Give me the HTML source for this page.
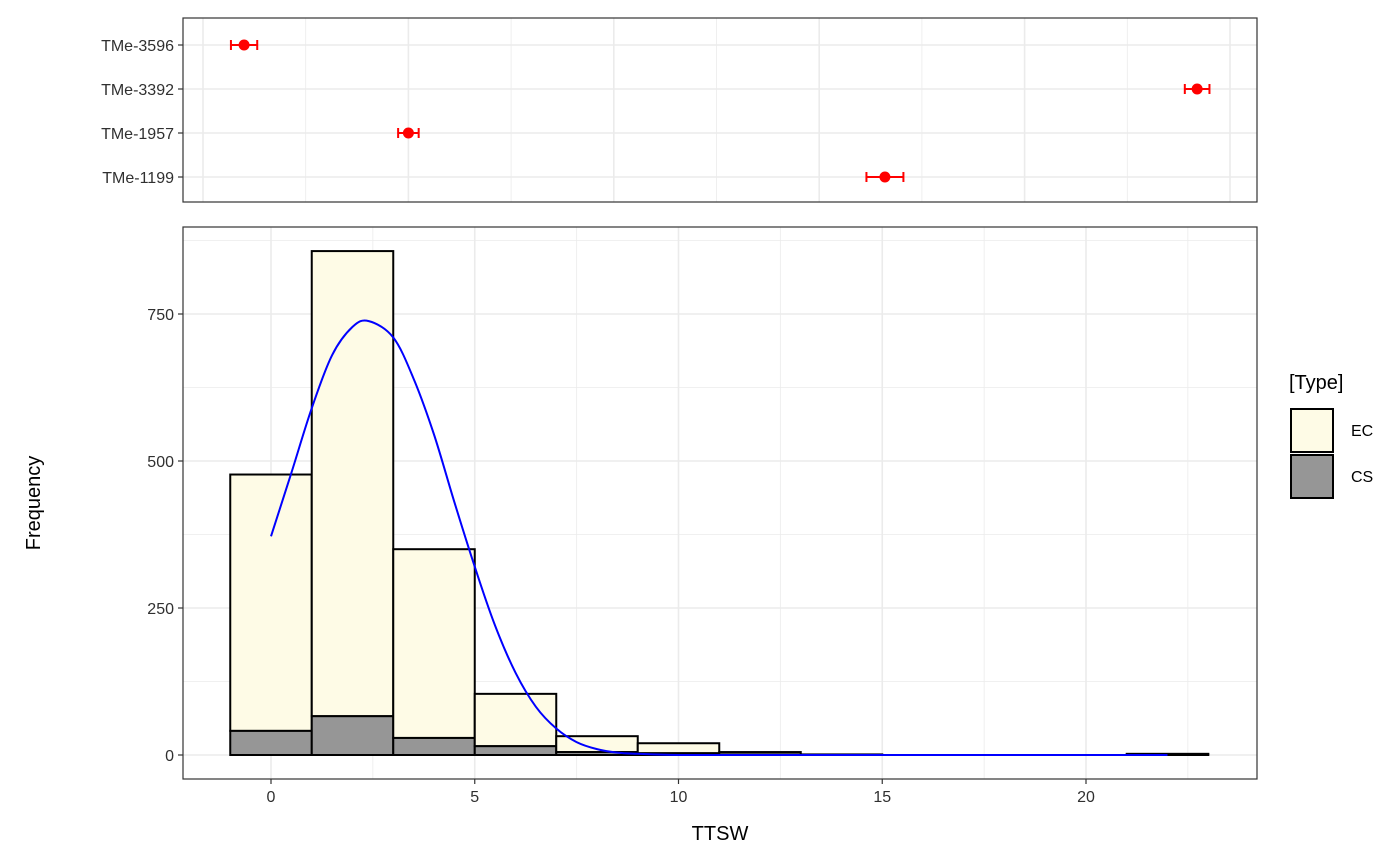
<!DOCTYPE html>
<html><head><meta charset="utf-8"><style>
body{margin:0;background:#fff}
svg{display:block;font-family:"Liberation Sans",Arial,sans-serif}
</style></head><body>
<svg id="chart" width="1400" height="866" viewBox="0 0 1400 866">
<g id="topPanelG"></g>
<g id="mainG"></g>
<g id="legendG"></g>
</svg>
<script>
// ---- data ----
const genotypes = ["TMe-3596","TMe-3392","TMe-1957","TMe-1199"];
const genoMeans = [1.0, 24.2, 5.0, 16.6];
const genoErr = [0.32, 0.3, 0.25, 0.45];
const binCenters = [0,2,4,6,8,10,12,14,16,18,20,22];
const csCounts = [41,66,29,15,5,3,1,1,0,0,0,1];
const ecCounts = [436,791,321,89,27,17,4,0,0,0,0,1];
const curveX = [0,0.5,1,1.5,2,2.4,3,3.5,4,4.5,5,5.5,6,6.5,7,7.5,8,8.5,9,10,12,14,16,18,20,22];
const curveY = [372,480,590,680,728,738,710,640,545,430,320,220,140,82,45,22,10,4,2,0,0,0,0,0,0,0];
const xTicks = [0,5,10,15,20];
const yTicks = [0,250,500,750];
// ---- helpers ----
const NS="http://www.w3.org/2000/svg";
const TICK_COL='#303030';
function mk(parent,tag,attrs,text){const e=document.createElementNS(NS,tag);for(const k in attrs)e.setAttribute(k,attrs[k]);if(text!==undefined)e.textContent=text;parent.appendChild(e);return e;}
// ---- main panel ----
const M={l:183,r:1257,t:227,b:779};
const xs=v=>271+v*40.75;
const ys=v=>755-v*0.588;
const mainG=document.getElementById('mainG');
mk(mainG,'rect',{x:M.l,y:M.t,width:M.r-M.l,height:M.b-M.t,fill:'#fff'});
[-2.5,2.5,7.5,12.5,17.5,22.5].forEach(v=>{const x=xs(v);if(x>M.l&&x<M.r)mk(mainG,'line',{x1:x,x2:x,y1:M.t,y2:M.b,stroke:'#ebebeb','stroke-width':0.8});});
[125,375,625,875].forEach(v=>{mk(mainG,'line',{x1:M.l,x2:M.r,y1:ys(v),y2:ys(v),stroke:'#ebebeb','stroke-width':0.8});});
xTicks.forEach(v=>{mk(mainG,'line',{x1:xs(v),x2:xs(v),y1:M.t,y2:M.b,stroke:'#ebebeb','stroke-width':1.6});
 mk(mainG,'line',{x1:xs(v),x2:xs(v),y1:M.b,y2:M.b+5,stroke:'#333','stroke-width':1.2});
 const t=mk(mainG,'text',{x:xs(v),y:M.b+23,'text-anchor':'middle','font-size':16,fill:TICK_COL},v);
 
 });
yTicks.forEach(v=>{mk(mainG,'line',{x1:M.l,x2:M.r,y1:ys(v),y2:ys(v),stroke:'#ebebeb','stroke-width':1.6});
 mk(mainG,'line',{x1:M.l-5,x2:M.l,y1:ys(v),y2:ys(v),stroke:'#333','stroke-width':1.2});
 const t=mk(mainG,'text',{x:M.l-9,y:ys(v)+6,'text-anchor':'end','font-size':16,fill:TICK_COL},v);
 
 });
binCenters.forEach((c,i)=>{
 const x0=xs(c-1),w=xs(c+1)-xs(c-1);
 const cs=csCounts[i],tot=cs+ecCounts[i];
 if(tot<=0)return;
 const e=mk(mainG,'rect',{x:x0,y:ys(tot),width:w,height:ys(cs)-ys(tot),fill:'#fefbe6',stroke:'#000','stroke-width':2});
 
 
 const b=mk(mainG,'rect',{x:x0,y:ys(cs),width:w,height:ys(0)-ys(cs),fill:'#969696',stroke:'#000','stroke-width':2});
 
 
});
// smooth curve (Catmull-Rom through the read points)
const P=curveX.map((x,i)=>[xs(x),ys(curveY[i])]);
let d='M'+P[0][0].toFixed(1)+','+P[0][1].toFixed(1);
for(let i=0;i<P.length-1;i++){
 const p0=P[Math.max(i-1,0)],p1=P[i],p2=P[i+1],p3=P[Math.min(i+2,P.length-1)];
 const c1=[p1[0]+(p2[0]-p0[0])/6,p1[1]+(p2[1]-p0[1])/6];
 const c2=[p2[0]-(p3[0]-p1[0])/6,p2[1]-(p3[1]-p1[1])/6];
 d+=' C'+c1[0].toFixed(1)+','+c1[1].toFixed(1)+' '+c2[0].toFixed(1)+','+c2[1].toFixed(1)+' '+p2[0].toFixed(1)+','+p2[1].toFixed(1);
}
const cv=mk(mainG,'path',{d:d,fill:'none',stroke:'#0000ff','stroke-width':2});


mk(mainG,'rect',{x:M.l,y:M.t,width:M.r-M.l,height:M.b-M.t,fill:'none',stroke:'#333','stroke-width':1.2});
const xt=mk(mainG,'text',{x:720,y:840,'text-anchor':'middle','font-size':20,fill:'#000'},'TTSW');


const yt=mk(mainG,'text',{x:40,y:503,'text-anchor':'middle','font-size':20,fill:'#000',transform:'rotate(-90 40 503)'},'Frequency');


// ---- top panel ----
const T={l:183,r:1257,t:18,b:202};
const txs=v=>203+v*41.08;
const rowY=[45,89,133,177];
const topPanel=document.getElementById('topPanelG');
mk(topPanel,'rect',{x:T.l,y:T.t,width:T.r-T.l,height:T.b-T.t,fill:'#fff'});
[2.5,7.5,12.5,17.5,22.5].forEach(v=>mk(topPanel,'line',{x1:txs(v),x2:txs(v),y1:T.t,y2:T.b,stroke:'#ebebeb','stroke-width':0.8}));
[0,5,10,15,20,25].forEach(v=>mk(topPanel,'line',{x1:txs(v),x2:txs(v),y1:T.t,y2:T.b,stroke:'#ebebeb','stroke-width':1.6}));
genotypes.forEach((g,i)=>{
 const y=rowY[i];
 mk(topPanel,'line',{x1:T.l,x2:T.r,y1:y,y2:y,stroke:'#ebebeb','stroke-width':1.6});
 mk(topPanel,'line',{x1:T.l-5,x2:T.l,y1:y,y2:y,stroke:'#333','stroke-width':1.2});
 const t=mk(topPanel,'text',{x:T.l-9,y:y+6,'text-anchor':'end','font-size':16,fill:TICK_COL},g);
 
 
});
genotypes.forEach((g,i)=>{
 const y=rowY[i],m=genoMeans[i],e=genoErr[i];
 const gr=mk(topPanel,'g',{});
 
 
 mk(gr,'line',{x1:txs(m-e),x2:txs(m+e),y1:y,y2:y,stroke:'red','stroke-width':2});
 mk(gr,'line',{x1:txs(m-e),x2:txs(m-e),y1:y-5,y2:y+5,stroke:'red','stroke-width':2});
 mk(gr,'line',{x1:txs(m+e),x2:txs(m+e),y1:y-5,y2:y+5,stroke:'red','stroke-width':2});
 mk(gr,'circle',{cx:txs(m),cy:y,r:5.5,fill:'red'});
});
mk(topPanel,'rect',{x:T.l,y:T.t,width:T.r-T.l,height:T.b-T.t,fill:'none',stroke:'#333','stroke-width':1.2});
// ---- legend ----
const lg=document.getElementById('legendG');
mk(lg,'text',{x:1289,y:389,'font-size':20,fill:'#000'},'[Type]');
[['EC','#fefbe6',409],['CS','#969696',455]].forEach(([n,c,y])=>{
 const g=mk(lg,'g',{});
 
 
 mk(g,'rect',{x:1291,y:y,width:42,height:43,fill:c,stroke:'#000','stroke-width':2});
 mk(g,'text',{x:1351,y:y+27,'font-size':16,fill:'#000'},n);
});
</script>
</body></html>
